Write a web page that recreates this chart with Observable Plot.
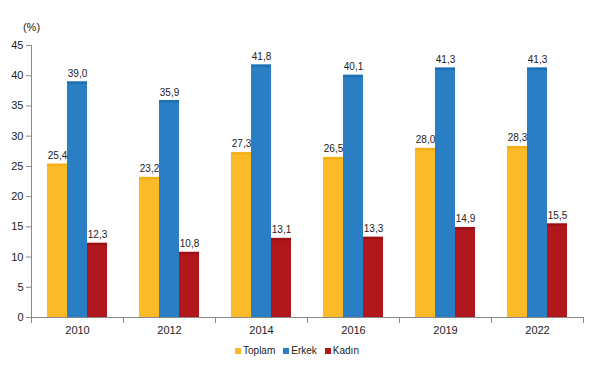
<!DOCTYPE html>
<html><head><meta charset="utf-8">
<script src="https://cdn.jsdelivr.net/npm/d3@7"></script>
<script src="https://cdn.jsdelivr.net/npm/@observablehq/plot@0.6"></script>
<style>
body{margin:0;background:#fff;font-family:"Liberation Sans",Arial,sans-serif}
#legend{display:flex;justify-content:center;gap:8px;font-size:10px;color:#222;margin-top:10px;line-height:12px;padding-left:0}
#legend span{display:inline-flex;align-items:center}
#legend i{display:inline-block;width:6px;height:6px;margin-right:2px}
</style></head><body><div id="chart"></div><div id="legend"></div>
<script>
const years = ["2010","2012","2014","2016","2019","2022"];
const series = ["Toplam","Erkek","Kadın"];
const toplam = [25.4,23.2,27.3,26.5,28.0,28.3];
const erkek = [39.0,35.9,41.8,40.1,41.3,41.3];
const kadin = [12.3,10.8,13.1,13.3,14.9,15.5];
const colors = ["#FBBA27","#2A7EC3","#B0171C"];
const edgeColors = ["#F2AE1A","#1F6FB0","#9A1015"];
const yTicks = [0,5,10,15,20,25,30,35,40,45];

const values = [toplam, erkek, kadin];
const data = [];
years.forEach((yr, i) => series.forEach((s, j) => data.push({year: yr, series: s, value: values[j][i]})));

const fmt = d3.formatLocale({decimal: ",", thousands: ".", grouping: [3], currency: ["", ""]}).format(".1f");

const chart = Plot.plot({
  width: 594, height: 335,
  marginLeft: 30, marginRight: 11, marginTop: 45, marginBottom: 18,
  style: {fontFamily: "Liberation Sans, Arial, sans-serif", fontSize: "11px", color: "#222", background: "#fff"},
  fx: {domain: years, padding: 0, label: null},
  x: {domain: series, paddingInner: 0, paddingOuter: 0.76, axis: null},
  y: {domain: [0, 45], label: null},
  color: {domain: series, range: colors},
  marks: [
    Plot.barY(data, {fx: "year", x: "series", y: "value", fill: "series"}),
    Plot.tickY(data, {fx: "year", x: "series", y: "value", stroke: d => edgeColors[series.indexOf(d.series)], strokeWidth: 2, dy: 1}),
    Plot.text(data, {fx: "year", x: "series", y: "value", text: d => fmt(d.value), lineAnchor: "bottom", dy: -5, fontSize: 10, fill: "#222"}),
    Plot.frame({anchor: "bottom", stroke: "#888"}),
    Plot.frame({anchor: "left", stroke: "#888", insetTop: 272, insetBottom: -5}),
    Plot.frame({anchor: "right", stroke: "#888", insetTop: 272, insetBottom: -5}),
    Plot.frame({anchor: "left", stroke: "#888", facetAnchor: "left"}),
    Plot.axisY({ticks: yTicks, tickSize: 5, tickPadding: 3, tickFormat: d3.format("d"), stroke: "#888", fill: "#222", fontSize: 11, label: null, facetAnchor: "left"}),
    Plot.axisFx({anchor: "bottom", tickSize: 0, tickPadding: 9, fontSize: 11, fill: "#222", label: null}),
    Plot.text(["(%)"], {frameAnchor: "top-left", facetAnchor: "left", dy: -22, textAnchor: "middle", fontSize: 11, fill: "#222"})
  ]
});
document.getElementById("chart").append(chart);
const leg = document.getElementById("legend");
series.forEach((s, j) => {
  const el = document.createElement("span");
  el.innerHTML = `<i style="background:${colors[j]}"></i>${s}`;
  leg.append(el);
});
</script></body></html>
